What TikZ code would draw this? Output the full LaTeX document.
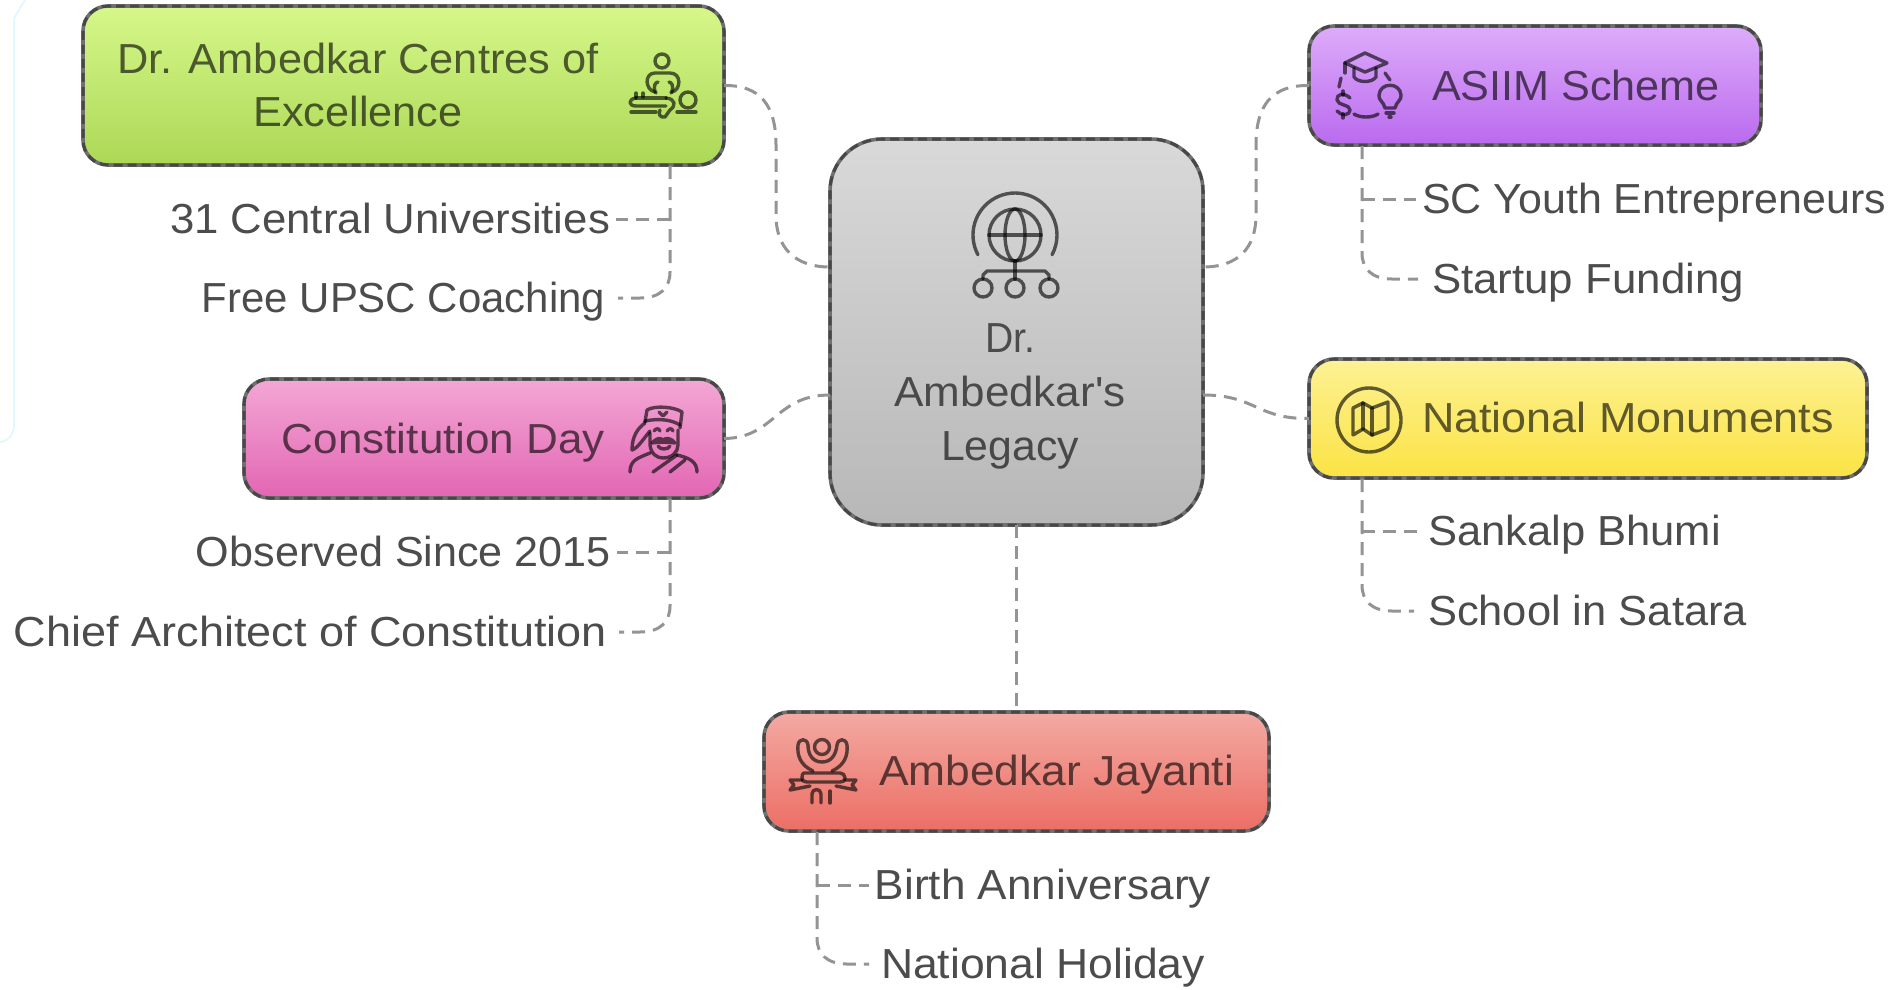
\documentclass[tikz,border=0pt]{standalone}
\usepackage{fontspec}
\usepackage{graphicx}
\setmainfont{Liberation Sans}
\usetikzlibrary{calc}
\newcommand\tfit[2]{\resizebox{#1pt}{\height}{#2}}
\definecolor{frameC}{HTML}{707070}
\definecolor{frameD}{HTML}{474747}
\definecolor{connC}{HTML}{949494}
\tikzset{
  x=1pt,y=-1pt,
  card/.style={rounded corners=25pt,draw=frameC,line width=3.6pt,inner sep=0pt,outer sep=0pt,
    postaction={draw=frameD,line width=3pt,dash pattern=on 9pt off 5pt}},
  bigcard/.style={card,rounded corners=52pt},
  lbl/.style={font=\fontsize{42}{42}\selectfont,text=black,text opacity=.7,inner xsep=6pt,inner ysep=0pt,
    outer sep=0pt,text height=29pt,text depth=0pt,anchor=center},
  cardlbl/.style={lbl,text opacity=.62},
  conn/.style={draw=connC,line width=3pt,dash pattern=on 13pt off 8pt},
  ico/.style={draw=black,draw opacity=.62,line width=3.4pt,line cap=round,line join=round,fill=none}
}
\begin{document}
\begin{tikzpicture}
\useasboundingbox (0,0) rectangle (1895,989);
\fill[white] (0,0) rectangle (1895,989);
% faint panel edge at the left
\draw[draw=cyan!12,line width=1.5pt] (25,0) -- (14,18) -- (14,425) .. controls (14,435) and (8,441) .. (0,442);
% cards
\node[bigcard,top color=white!85!black,bottom color=white!72!black,minimum width=373pt,minimum height=386pt] (hub) at (1016.5,332) {};
\node[card,top color={rgb,255:red,214;green,247;blue,138},bottom color={rgb,255:red,172;green,216;blue,86},minimum width=641pt,minimum height=159pt] (green) at (403.5,85.5) {};
\node[card,top color={rgb,255:red,221;green,172;blue,250},bottom color={rgb,255:red,186;green,106;blue,238},minimum width=452pt,minimum height=119pt] (purple) at (1535,85.5) {};
\node[card,top color={rgb,255:red,253;green,241;blue,148},bottom color={rgb,255:red,251;green,227;blue,68},minimum width=558pt,minimum height=119pt] (yellow) at (1588,418.5) {};
\node[card,top color={rgb,255:red,243;green,167;blue,213},bottom color={rgb,255:red,226;green,102;blue,179},minimum width=480pt,minimum height=119pt] (pink) at (484,438.5) {};
\node[card,top color={rgb,255:red,243;green,170;blue,163},bottom color={rgb,255:red,236;green,110;blue,101},minimum width=505pt,minimum height=119pt] (red) at (1016.5,771.5) {};
% card texts
\node[cardlbl] (tGreenA) at (358,59) {\tfit{481}{Dr. Ambedkar Centres of}};
\node[cardlbl] (tGreenB) at (358,112) {\tfit{209}{Excellence}};
\node[cardlbl] (tHubA) at (1010,338) {\tfit{50}{Dr.}};
\node[cardlbl] (tHubB) at (1010,392) {\tfit{231}{Ambedkar\textquotesingle s}};
\node[cardlbl] (tHubC) at (1010,446) {\tfit{138}{Legacy}};
\node[cardlbl] (tPurple) at (1576,86) {\tfit{288}{ASIIM Scheme}};
\node[cardlbl] (tYellow) at (1628,418) {\tfit{412}{National Monuments}};
\node[cardlbl] (tPink) at (443.5,439) {\tfit{323}{Constitution Day}};
\node[cardlbl] (tRed) at (1056.5,771) {\tfit{355}{Ambedkar Jayanti}};
% leaves
\node[lbl] (central) at (390,219) {\tfit{440}{31 Central Universities}};
\node[lbl] (upsc) at (403.5,298) {\tfit{403}{Free UPSC Coaching}};
\node[lbl] (observed) at (403.5,552) {\tfit{415}{Observed Since 2015}};
\node[lbl] (chief) at (310.5,632) {\tfit{593}{Chief Architect of Constitution}};
\node[lbl] (youth) at (1654,199) {\tfit{464}{SC Youth Entrepreneurs}};
\node[lbl] (funding) at (1588,279) {\tfit{312}{Startup Funding}};
\node[lbl] (sankalp) at (1574.5,531) {\tfit{293}{Sankalp Bhumi}};
\node[lbl] (satara) at (1587.5,611) {\tfit{319}{School in Satara}};
\node[lbl] (birth) at (1043,885) {\tfit{336}{Birth Anniversary}};
\node[lbl] (holiday) at (1043,964) {\tfit{324}{National Holiday}};
% ports
\coordinate (hubLA) at ($(hub.west)+(0,-65)$);
\coordinate (hubLB) at ($(hub.west)+(0,63)$);
\coordinate (hubRA) at ($(hub.east)+(0,-65)$);
\coordinate (hubRB) at ($(hub.east)+(0,63)$);
\coordinate (greenP) at (670,166);
\coordinate (pinkP) at (670,499);
\coordinate (purpleP) at (1362,146);
\coordinate (yellowP) at (1362,479);
\coordinate (redP) at (817,832);
% main connectors
\draw[conn] (green.east) .. controls (760,85) and (776,105) .. (776,145) -- (776,215) .. controls (776,248) and (795,267) .. (hubLA);
\draw[conn] (pink.east) .. controls (775,438) and (775,395) .. (hubLB);
\draw[conn] (purple.west) .. controls (1272,85) and (1256,105) .. (1256,145) -- (1256,215) .. controls (1256,248) and (1238,267) .. (hubRA);
\draw[conn] (hubRB) .. controls (1256,395) and (1256,419) .. (yellow.west);
\draw[conn] (hub.south) -- (red.north);
% leaf connectors
\draw[conn,shorten >=7pt] (greenP) -- (670,272) .. controls (670,288) and (660,298) .. (640,298) -- (upsc.east);
\draw[conn] (greenP |- central.east) -- (central.east);
\draw[conn,shorten >=6pt] (pinkP) -- (670,606) .. controls (670,622) and (660,632) .. (640,632) -- (chief.east);
\draw[conn] (pinkP |- observed.east) -- (observed.east);
\draw[conn,shorten >=8pt] (purpleP) -- (1362,253) .. controls (1362,269) and (1372,279) .. (1392,279) -- (funding.west);
\draw[conn] (purpleP |- youth.west) -- (youth.west);
\draw[conn,shorten >=8pt] (yellowP) -- (1362,585) .. controls (1362,601) and (1372,611) .. (1392,611) -- (satara.west);
\draw[conn,shorten >=5pt] (yellowP |- sankalp.west) -- (sankalp.west);
\draw[conn,shorten >=6pt] (redP) -- (817,938) .. controls (817,954) and (827,964) .. (847,964) -- (holiday.west);
\draw[conn] (redP |- birth.west) -- (birth.west);
% hub icon: globe with network
\draw[ico] (1015,235) circle (26);
\draw[ico] (1015,235) ellipse (10 and 26);
\draw[ico] (989,235) -- (1041,235);
\draw[ico] (1015,235) ++(152:42) arc (152:388:42);
\draw[ico] (1015,261) -- (1015,279);
\draw[ico] (983,279) -- (983,275) -- (987,271) -- (1045,271) -- (1049,275) -- (1049,279);
\draw[ico] (983,288) circle (9) (1015,288) circle (9) (1049,288) circle (9);
% green icon: person at a desk
\draw[ico] (662,61) circle (7);
\draw[ico] (655,92) .. controls (645,90) and (644,73) .. (655,73) -- (670,73) .. controls (682,73) and (681,90) .. (672,92);
\draw[ico] (656,93) .. controls (652,86) and (656,82) .. (658,82) (671,93) .. controls (675,86) and (671,82) .. (669,82);
\draw[ico] (688,100) circle (8);
\draw[ico] (631,112) -- (656,112) (677,112) -- (696,112);
\draw[ico] (636,98) -- (666,98);
\draw[ico] (636,98) .. controls (628,99) and (628,106) .. (636,106) -- (666,106);
\draw[ico] (636,93) -- (636,97) (643,93) -- (643,97);
\draw[ico] (666,98) .. controls (676,99) and (676,106) .. (670,110) -- (665,117) .. controls (660,118) and (658,114) .. (660,110);
% purple icon: cap, dollar and bulb
\draw[ico] (1345,63) -- (1365,53) -- (1387,63) -- (1365,72) -- cycle;
\draw[ico] (1354,68) -- (1354,77) .. controls (1358,83) and (1372,83) .. (1376,77) -- (1376,68);
\draw[ico] (1345,63) -- (1345,73);
\draw[ico] (1341,78) -- (1339,87) (1385,73) -- (1390,80);
\draw[ico] (1354,114) .. controls (1360,118) and (1372,118) .. (1378,114);
\draw[ico] (1350,98) .. controls (1344,92) and (1336,94) .. (1337,100) .. controls (1338,106) and (1350,104) .. (1350,110) .. controls (1350,116) and (1341,116) .. (1337,111);
\draw[ico] (1343,91) -- (1343,95) (1343,114) -- (1343,118);
\draw[ico] (1385,108) .. controls (1384,102) and (1378,100) .. (1379,95) .. controls (1380,82) and (1400,82) .. (1401,95) .. controls (1402,100) and (1396,102) .. (1395,108) -- cycle;
\draw[ico] (1386,113) -- (1394,113) (1389,117) -- (1391,117);
% yellow icon: map in a ring
\draw[ico] (1369,420) circle (32);
\draw[ico] (1353,408) -- (1363,403) -- (1372,408) -- (1388,402) -- (1388,429) -- (1372,435) -- (1363,429) -- (1353,435) -- cycle;
\draw[ico] (1363,403) -- (1363,429) (1372,408) -- (1372,435);
% pink icon: saluting figure
\draw[ico] (645,422) -- (647,410) .. controls (655,405) and (675,407) .. (682,412) -- (680,428);
\draw[ico] (645,421) .. controls (660,418) and (672,420) .. (680,425);
\draw[ico] (663,416) -- (659,412) (663,416) -- (667,412);
\draw[ico] (645,423) .. controls (638,428) and (632,436) .. (632,450) .. controls (638,448) and (644,438) .. (650,431);
\draw[ico] (650,433) -- (650,445) .. controls (651,454) and (657,458) .. (663,458) .. controls (672,458) and (678,452) .. (678,445) -- (678,430);
\draw[ico] (654,431) .. controls (656,428) and (659,428) .. (660,431) (667,431) .. controls (669,428) and (672,428) .. (673,431);
\draw[ico] (652,443) .. controls (658,437) and (660,438) .. (663,440) .. controls (666,438) and (670,437) .. (675,443) .. controls (670,442) and (656,442) .. (652,443);
\draw[ico] (658,446) .. controls (660,450) and (668,450) .. (670,446);
\draw[ico] (630,472) .. controls (630,460) and (638,458) .. (650,453) (677,455) .. controls (690,458) and (697,462) .. (697,472);
\draw[ico] (653,472) -- (677,455) (670,472) -- (685,460);
% red icon: figure with banner
\draw[ico] (822,747) circle (7.5);
\draw[ico] (813,771) .. controls (800,765) and (797,755) .. (798,745) .. controls (799,738) and (807,738) .. (808,745) .. controls (808,755) and (813,762) .. (822,762) .. controls (831,762) and (836,755) .. (837,745) .. controls (838,738) and (846,738) .. (847,745) .. controls (848,755) and (845,765) .. (832,771);
\draw[ico] (802,778) .. controls (802,772) and (804,773) .. (807,773) -- (840,773) .. controls (843,773) and (845,775) .. (845,778) .. controls (845,781) and (843,782) .. (840,782) -- (807,782) .. controls (804,782) and (802,781) .. (802,778);
\draw[ico] (802,780) -- (790,780) -- (794,785) -- (790,790) -- (810,786);
\draw[ico] (845,780) -- (856,780) -- (852,785) -- (856,790) -- (836,786);
\draw[ico] (812,803) -- (812,794) .. controls (812,788) and (821,788) .. (821,794) -- (821,803);
\draw[ico] (830,791) -- (830,803);
\end{tikzpicture}
\end{document}
